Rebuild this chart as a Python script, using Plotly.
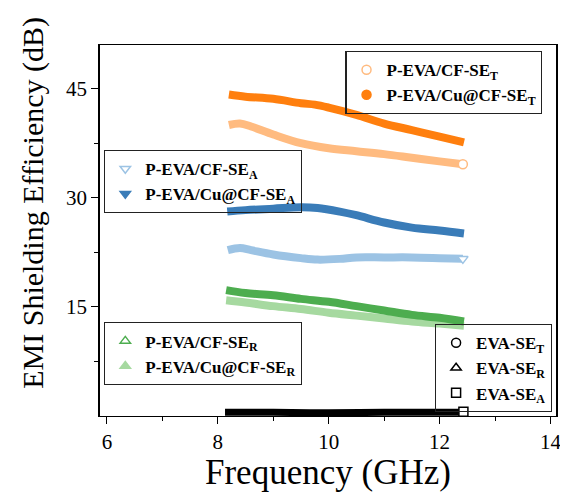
import plotly.graph_objects as go

# ---------------- data ----------------
cu_T_x = [8.2, 8.5, 9.0, 9.5, 9.75, 10.0, 10.5, 11.0, 11.5, 12.0, 12.44]
cu_T_y = [44.2, 43.9, 43.6, 43.0, 42.8, 42.4, 41.4, 40.2, 39.3, 38.4, 37.6]

cf_T_x = [8.2, 8.4, 8.6, 9.0, 9.5, 10.0, 10.5, 11.0, 11.5, 12.0, 12.42]
cf_T_y = [40.0, 40.2, 39.8, 38.7, 37.5, 36.8, 36.4, 36.0, 35.5, 35.0, 34.6]

cu_A_x = [8.17, 8.5, 9.0, 9.5, 9.8, 10.2, 10.5, 11.0, 11.5, 12.0, 12.44]
cu_A_y = [28.1, 28.3, 28.5, 28.7, 28.6, 28.1, 27.6, 26.6, 25.9, 25.5, 25.1]

cf_A_x = [8.18, 8.4, 8.6, 9.0, 9.5, 9.8, 10.2, 10.5, 11.0, 11.5, 12.0, 12.42]
cf_A_y = [22.8, 23.1, 22.8, 22.2, 21.7, 21.5, 21.6, 21.8, 21.8, 21.8, 21.7, 21.6]

cf_R_x = [8.15, 8.5, 9.0, 9.5, 10.0, 10.5, 11.0, 11.5, 12.0, 12.44]
cf_R_y = [17.3, 16.9, 16.6, 16.1, 15.7, 15.1, 14.5, 13.9, 13.5, 13.0]

cu_R_x = [8.15, 8.5, 9.0, 9.5, 10.0, 10.5, 11.0, 11.5, 12.0, 12.44]
cu_R_y = [15.9, 15.6, 15.1, 14.7, 14.2, 13.8, 13.4, 13.0, 12.7, 12.4]

eva_x = [8.13, 9.0, 10.0, 11.0, 12.0, 12.36]
eva_y = [0.5, 0.5, 0.45, 0.5, 0.5, 0.5]
eva_end_x = [12.43]
eva_end_y = [0.6]

x_ticks = [6, 8, 10, 12, 14]
x_minor = [7, 9, 11, 13]
y_ticks = [15, 30, 45]
y_minor = [7.5, 22.5, 37.5]

# ---------------- colours ----------------
C_ORANGE = "#FF7F0E"
C_LORANGE = "#FFBB80"
C_BLUE = "#3A7CB8"
C_LBLUE = "#9CC3E4"
C_GREEN = "#4DAD4F"
C_LGREEN = "#A6D9A0"

SERIF = "Liberation Serif"
LW = 8

fig = go.Figure()

def line(x, y, color, width=LW):
    fig.add_trace(go.Scatter(x=x, y=y, mode="lines", line=dict(color=color, width=width, shape="spline"),
                             showlegend=False, hoverinfo="skip"))

def leg(name, symbol, color, filled, legend, x=None, y=None):
    fig.add_trace(go.Scatter(
        x=x if x is not None else [None], y=y if y is not None else [None], mode="markers", name=name,
        legend=legend, hoverinfo="skip",
        marker=dict(symbol=symbol, size=9,
                    color=color if filled else "white",
                    line=dict(color=color, width=1.5)),
    ))

# data lines
line(cf_T_x, cf_T_y, C_LORANGE)
line(cu_T_x, cu_T_y, C_ORANGE)
line(cu_A_x, cu_A_y, C_BLUE)
line(cf_A_x, cf_A_y, C_LBLUE)
line(cu_R_x, cu_R_y, C_LGREEN)
line(cf_R_x, cf_R_y, C_GREEN)
line(eva_x, eva_y, "black", 7)

# legend entries (+ end markers where visible)
leg("P-EVA/CF-SE<sub>T</sub>", "circle", C_LORANGE, False, "legend", [cf_T_x[-1]], [cf_T_y[-1]])
leg("P-EVA/Cu@CF-SE<sub>T</sub>", "circle", C_ORANGE, True, "legend")
leg("P-EVA/CF-SE<sub>A</sub>", "triangle-down", C_LBLUE, False, "legend2", [cf_A_x[-1]], [cf_A_y[-1]])
leg("P-EVA/Cu@CF-SE<sub>A</sub>", "triangle-down", C_BLUE, True, "legend2")
leg("P-EVA/CF-SE<sub>R</sub>", "triangle-up", C_GREEN, False, "legend3")
leg("P-EVA/Cu@CF-SE<sub>R</sub>", "triangle-up", C_LGREEN, True, "legend3")
leg("EVA-SE<sub>T</sub>", "circle", "black", False, "legend4")
leg("EVA-SE<sub>R</sub>", "triangle-up", "black", False, "legend4")
leg("EVA-SE<sub>A</sub>", "square", "black", False, "legend4", eva_end_x, eva_end_y)

legfont = dict(family=SERIF, size=17, color="black", weight="bold")
legbase = dict(font=legfont, bgcolor="rgba(255,255,255,0)", bordercolor="#222", borderwidth=1.2,
               tracegroupgap=0, itemsizing="trace")

# the page body has an 8px margin, so the figure is 8px smaller and shifted
fig.update_layout(
    width=560, height=487,
    margin=dict(l=92, r=7, t=37, b=79),
    paper_bgcolor="white", plot_bgcolor="white",
    font=dict(family=SERIF, color="black"),
    legend=dict(x=0.538, y=0.984, xanchor="left", yanchor="top", **legbase),
    legend2=dict(x=0.009, y=0.717, xanchor="left", yanchor="top", **legbase),
    legend3=dict(x=0.009, y=0.253, xanchor="left", yanchor="top", **legbase),
    legend4=dict(x=0.991, y=0.011, xanchor="right", yanchor="bottom", **legbase),
    xaxis=dict(range=[5.875, 14.1], tickmode="array", tickvals=x_ticks, ticks="outside", ticklen=7,
               tickwidth=1.2, tickcolor="black", showline=True, linecolor="black", linewidth=1.3,
               mirror=True, showgrid=False, zeroline=False,
               tickfont=dict(family=SERIF, size=21, color="black"),
               minor=dict(tickmode="array", tickvals=x_minor, ticks="outside", ticklen=4,
                          tickwidth=1.2, tickcolor="black", showgrid=False)),
    yaxis=dict(range=[0, 51], tickmode="array", tickvals=y_ticks, ticks="outside", ticklen=7,
               tickwidth=1.2, tickcolor="black", showline=True, linecolor="black", linewidth=1.5,
               mirror=True, showgrid=False, zeroline=False,
               tickfont=dict(family=SERIF, size=21, color="black"),
               minor=dict(tickmode="array", tickvals=y_minor, ticks="outside", ticklen=4,
                          tickwidth=1.2, tickcolor="black", showgrid=False)),
    annotations=[
        dict(text="Frequency (GHz)", xref="paper", yref="paper", x=0.5, y=-0.151,
             xanchor="center", yanchor="middle", showarrow=False,
             font=dict(family=SERIF, size=35, color="black")),
        dict(text="EMI Shielding Efficiency (dB)", xref="paper", yref="paper", x=-0.1475, y=0.574,
             xanchor="center", yanchor="middle", textangle=-90, showarrow=False,
             font=dict(family=SERIF, size=30, color="black")),
    ],
)

fig.write_html("out.html")
